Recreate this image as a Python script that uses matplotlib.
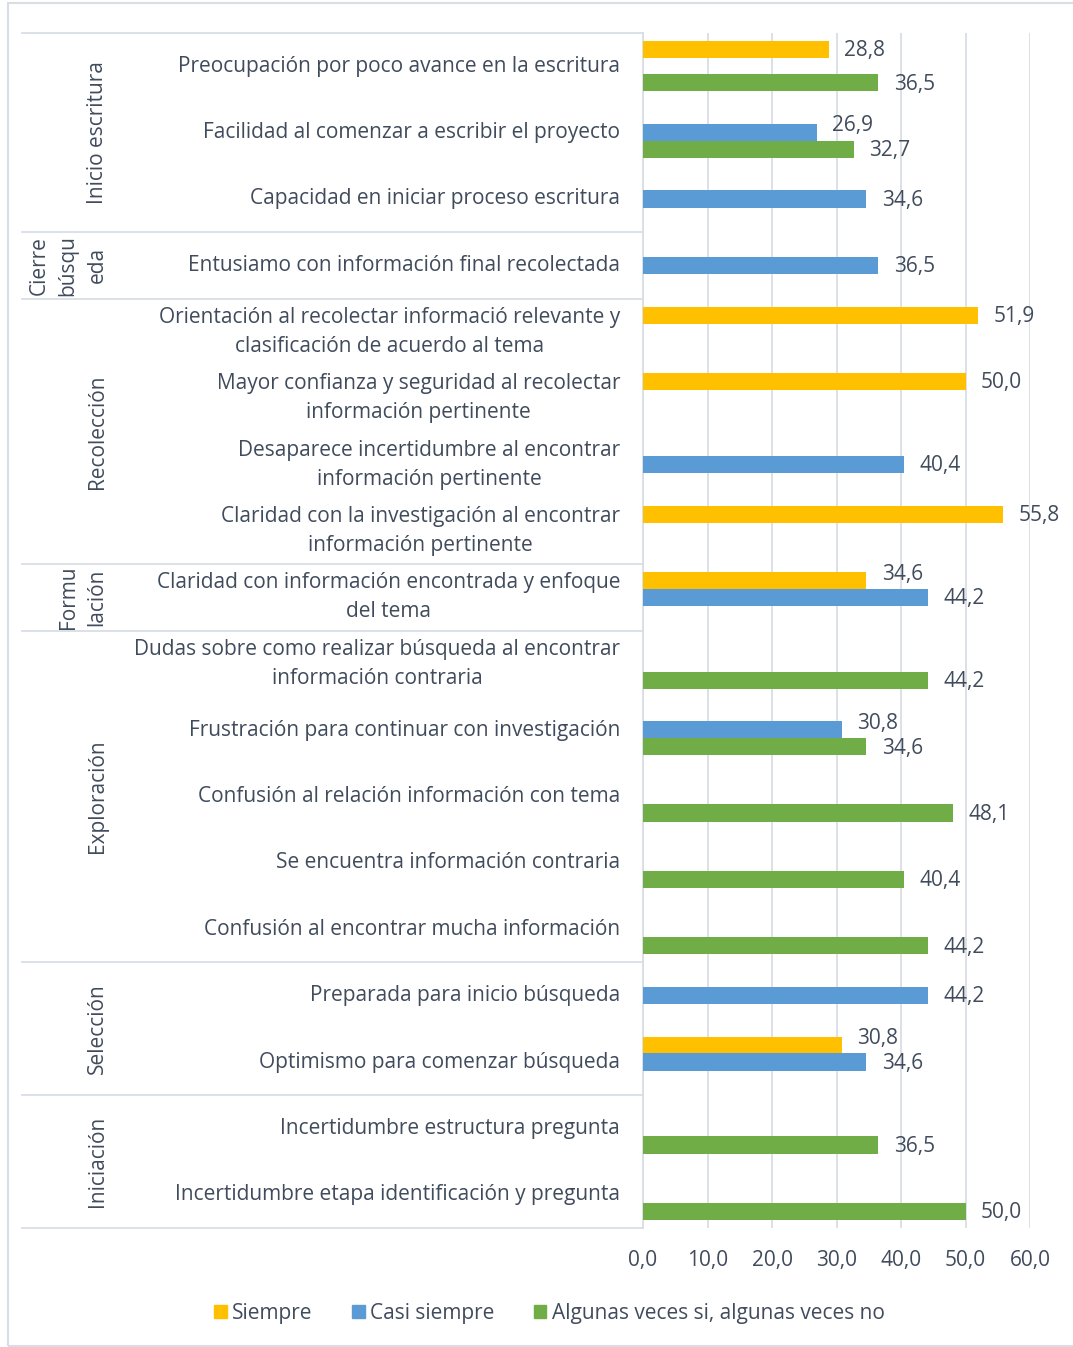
import matplotlib.pyplot as plt
import matplotlib.transforms as mtransforms
from matplotlib.patches import Rectangle, Patch

plt.rcParams['font.family'] = ['Open Sans', 'DejaVu Sans']

# Categories top to bottom
categories = [
    'Preocupación por poco avance en la escritura',
    'Facilidad al comenzar a escribir el proyecto',
    'Capacidad en iniciar proceso escritura',
    'Entusiamo con información final recolectada',
    'Orientación al recolectar informació relevante y\nclasificación de acuerdo al tema',
    'Mayor confianza y seguridad al recolectar\ninformación pertinente',
    'Desaparece incertidumbre al encontrar\ninformación pertinente',
    'Claridad con la investigación al encontrar\ninformación pertinente',
    'Claridad con información encontrada y enfoque\ndel tema',
    'Dudas sobre como realizar búsqueda al encontrar\ninformación contraria',
    'Frustración para continuar con investigación',
    'Confusión al relación información con tema',
    'Se encuentra información contraria',
    'Confusión al encontrar mucha información',
    'Preparada para inicio búsqueda',
    'Optimismo para comenzar búsqueda',
    'Incertidumbre estructura pregunta',
    'Incertidumbre etapa identificación y pregunta',
]

# (group label, number of categories)
groups = [
    ('Inicio escritura', 3),
    ('Cierre\nbúsqu\neda', 1),
    ('Recolección', 4),
    ('Formu\nlación', 1),
    ('Exploración', 5),
    ('Selección', 2),
    ('Iniciación', 2),
]

series_names = ['Siempre', 'Casi siempre', 'Algunas veces si, algunas veces no']
siempre = [28.8, None, None, None, 51.9, 50.0, None, 55.8, 34.6,
           None, None, None, None, None, None, 30.8, None, None]
casi_siempre = [None, 26.9, 34.6, 36.5, None, None, 40.4, None, 44.2,
                None, 30.8, None, None, None, 44.2, 34.6, None, None]
algunas_veces = [36.5, 32.7, None, None, None, None, None, None, None,
                 44.2, 34.6, 48.1, 40.4, 44.2, None, None, 36.5, 50.0]

colors = ['#FFC000', '#5B9BD5', '#70AD47']
text_color = '#404B5C'
line_color = '#D9DEE6'
fs = 15

W, H = 1073, 1347
fig = plt.figure(figsize=(W / 100, H / 100), dpi=100)

# axes placed in pixel terms of the reference
x0, x1 = 643, 1030
y0, y1 = 33, 1228
ax = fig.add_axes([x0 / W, 1 - y1 / H, (x1 - x0) / W, (y1 - y0) / H])

n = len(categories)
bar_h = 0.26
offsets = [-0.25, 0.0, 0.25]
all_series = [siempre, casi_siempre, algunas_veces]

for s, (vals, off, col) in enumerate(zip(all_series, offsets, colors)):
    for i, v in enumerate(vals):
        if v is None:
            continue
        ax.barh(i + off, v, height=bar_h, color=col, zorder=3)
        # push label up when the next bar in the same category is adjacent
        dy = 0.02
        if s < 2 and all_series[s + 1][i] is not None:
            dy = -0.1
        ax.text(v + 2.4, i + off + dy, f'{v:.1f}'.replace('.', ','),
                va='center', ha='left', fontsize=fs, color=text_color)

ax.set_xlim(0, 60)
ax.set_ylim(n - 0.5, -0.5)
ax.set_xticks(range(0, 61, 10))
ax.set_xticklabels([f'{t:.1f}'.replace('.', ',') for t in range(0, 61, 10)],
                   fontsize=fs, color=text_color)
ax.tick_params(axis='x', length=0, pad=16)
ax.set_yticks([])
ax.grid(axis='x', color=line_color, linewidth=1.3, zorder=0)
for side in ['top', 'right', 'bottom']:
    ax.spines[side].set_visible(False)
ax.spines['left'].set_color(line_color)
ax.spines['left'].set_linewidth(1.3)

px = 1 / (x1 - x0)  # axes fraction per pixel
trans = mtransforms.blended_transform_factory(ax.transAxes, ax.transData)

for i, lab in enumerate(categories):
    ax.text((620 - x0) * px, i, lab, transform=trans, ha='right', va='center',
            fontsize=fs, color=text_color, linespacing=1.5, multialignment='center')

left_x = (22 - x0) * px
ax.plot([left_x, 0], [-0.5, -0.5], transform=trans, color=line_color, lw=1.3, clip_on=False)
start = 0
for name, count in groups:
    end = start + count
    ax.plot([left_x, 0], [end - 0.5, end - 0.5], transform=trans,
            color=line_color, lw=1.3, clip_on=False)
    nlines = name.count('\n') + 1
    gx = 97 - (nlines - 1) * 14.5
    ax.text((gx - x0) * px, (start + end - 1) / 2, name, transform=trans,
            rotation=90, ha='center', va='center', fontsize=fs,
            color=text_color, linespacing=1.5, multialignment='center')
    start = end

handles = [Patch(color=c) for c in colors]
fig.legend(handles, series_names, loc='center', bbox_to_anchor=(0.512, 1 - 1313 / H),
           ncol=3, frameon=False, fontsize=fs, handlelength=0.6, handleheight=0.6,
           handletextpad=0.25, columnspacing=1.9, labelcolor=text_color)

fig.patches.append(Rectangle((8 / W, 1 / H), 1.2, 1 - 4 / H, transform=fig.transFigure,
                             fill=False, edgecolor=line_color, lw=1.5))

fig.savefig('out.png', dpi=100)
